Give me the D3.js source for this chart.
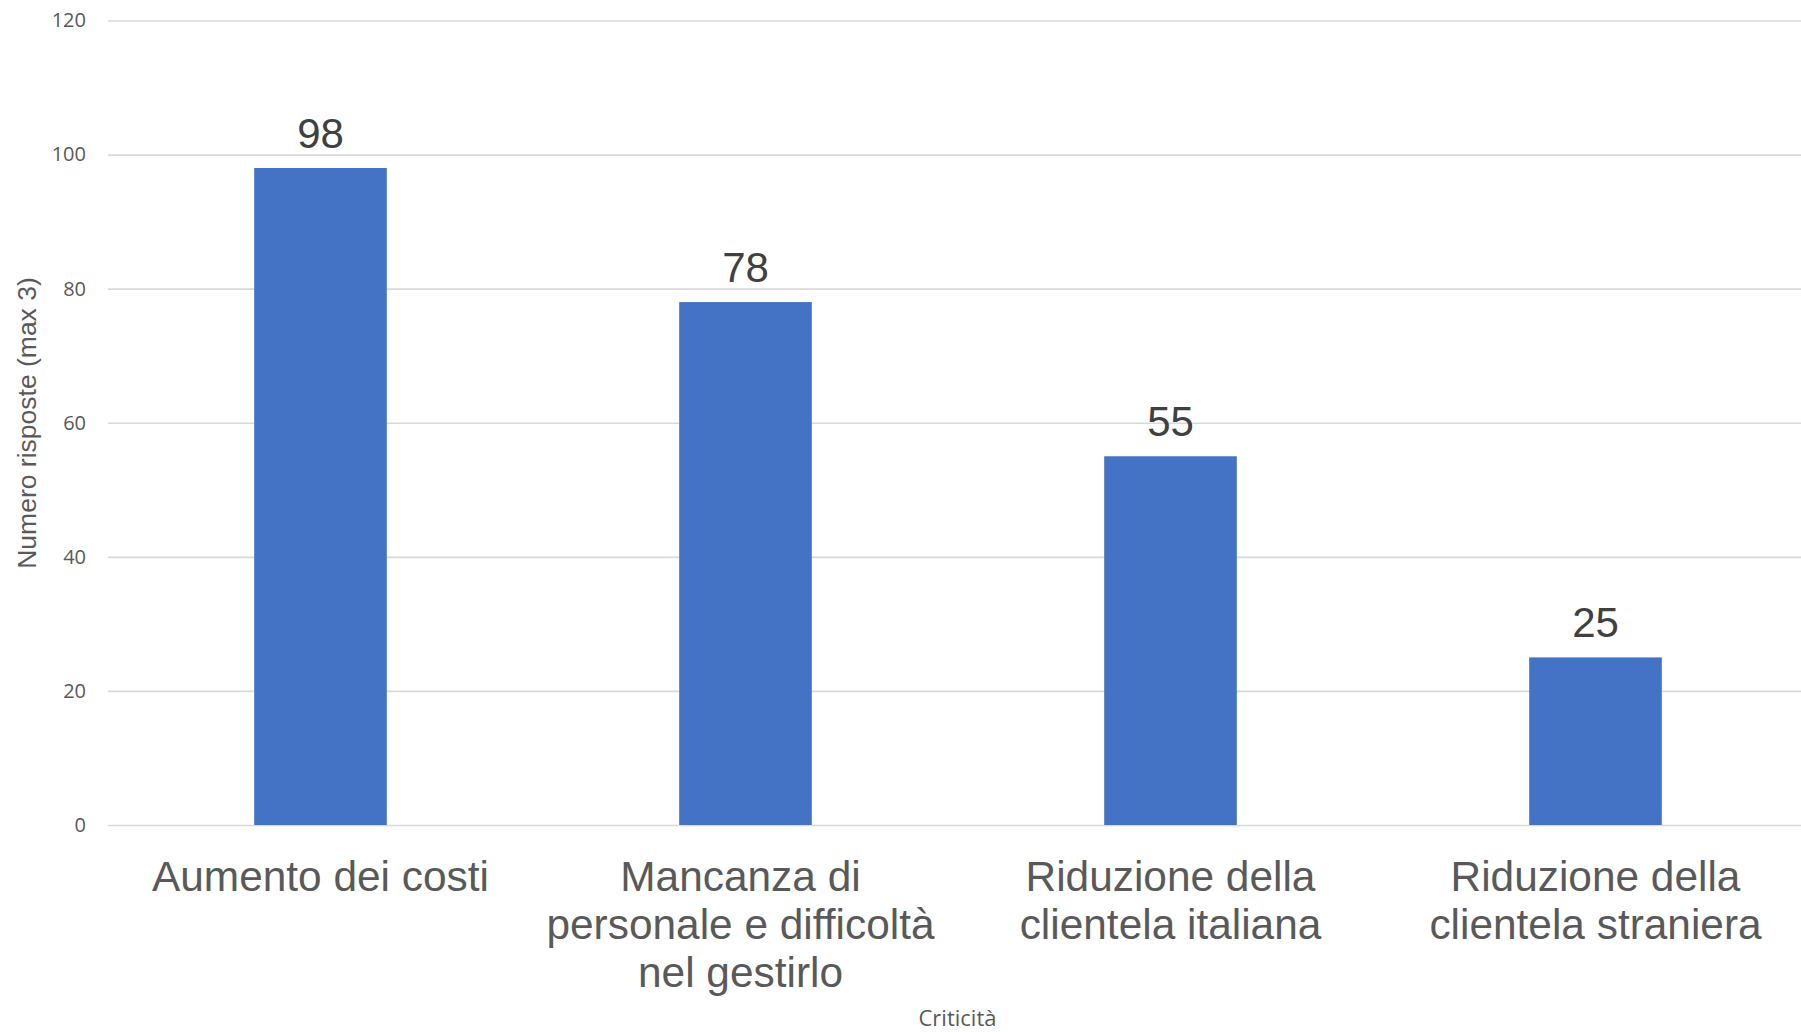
<!DOCTYPE html>
<html>
<head>
<meta charset="utf-8">
<script src="https://cdn.jsdelivr.net/npm/d3@7"></script>
<style>
  html, body { margin: 0; padding: 0; background: #ffffff; }
  svg { display: block; }
</style>
</head>
<body>
<svg id="chart" width="1801" height="1032"></svg>
<script>
const categories = [
  ["Aumento dei costi"],
  ["Mancanza di", "personale e difficoltà", "nel gestirlo"],
  ["Riduzione della", "clientela italiana"],
  ["Riduzione della", "clientela straniera"]
];
const values = [98, 78, 55, 25];
const yTicks = [0, 20, 40, 60, 80, 100, 120];
const yTitle = "Numero risposte (max 3)";
const xTitle = "Criticità";

(function () {
const svg = d3.select("#chart");
const plotLeft = 108, plotRight = 1808, plotTop = 20.5, plotBottom = 825;

const x = d3.scaleBand()
  .domain(d3.range(values.length))
  .range([plotLeft, plotRight])
  .paddingInner(0.688)
  .paddingOuter(0.344);

const y = d3.scaleLinear().domain([0, 120]).range([plotBottom, plotTop]);

// gridlines
const yAxis = d3.axisLeft(y).tickValues(yTicks).tickSize(-(plotRight - plotLeft)).tickPadding(22);
const gy = svg.append("g").attr("transform", `translate(${plotLeft},0)`).call(yAxis);
gy.select(".domain").remove();
gy.selectAll(".tick line").attr("stroke", "#d9d9d9").attr("stroke-width", 1.6);
gy.selectAll(".tick text")
  .attr("fill", "#595959")
  .style("font-family", "'Open Sans', sans-serif")
  .style("font-size", "20px");

// bars
svg.append("g").selectAll("rect")
  .data(values)
  .join("rect")
  .attr("x", (d, i) => x(i))
  .attr("width", x.bandwidth())
  .attr("y", d => y(d))
  .attr("height", d => y(0) - y(d))
  .attr("fill", "#4472C4");

// data labels
svg.append("g").selectAll("text")
  .data(values)
  .join("text")
  .attr("x", (d, i) => x(i) + x.bandwidth() / 2)
  .attr("y", d => y(d) - 20)
  .attr("text-anchor", "middle")
  .attr("fill", "#404040")
  .style("font-family", "'Liberation Sans', Arial, sans-serif")
  .style("font-size", "42px")
  .text(d => d);

// category labels (multi-line labels sit slightly left of the bar centre)
const cat = svg.append("g").selectAll("text")
  .data(categories)
  .join("text")
  .attr("text-anchor", "middle")
  .attr("fill", "#595959")
  .style("font-family", "'Liberation Sans', Arial, sans-serif")
  .style("font-size", "42.4px");
cat.each(function(lines, i) {
  const t = d3.select(this);
  const shift = lines.length > 2 ? -5 : 0;
  lines.forEach((ln, j) => {
    t.append("tspan")
      .attr("x", x(i) + x.bandwidth() / 2 + shift)
      .attr("y", 891 + j * 48)
      .text(ln);
  });
});

// axis titles
svg.append("text")
  .attr("x", (plotLeft + 1801) / 2 + 3)
  .attr("y", 1026)
  .attr("text-anchor", "middle")
  .attr("fill", "#595959")
  .style("font-family", "'Open Sans', sans-serif")
  .style("font-size", "22px")
  .text(xTitle);

svg.append("text")
  .attr("transform", `translate(36, 423) rotate(-90)`)
  .attr("text-anchor", "middle")
  .attr("fill", "#595959")
  .style("font-family", "'Liberation Sans', Arial, sans-serif")
  .style("font-size", "26.5px")
  .text(yTitle);
})();
</script>
</body>
</html>
